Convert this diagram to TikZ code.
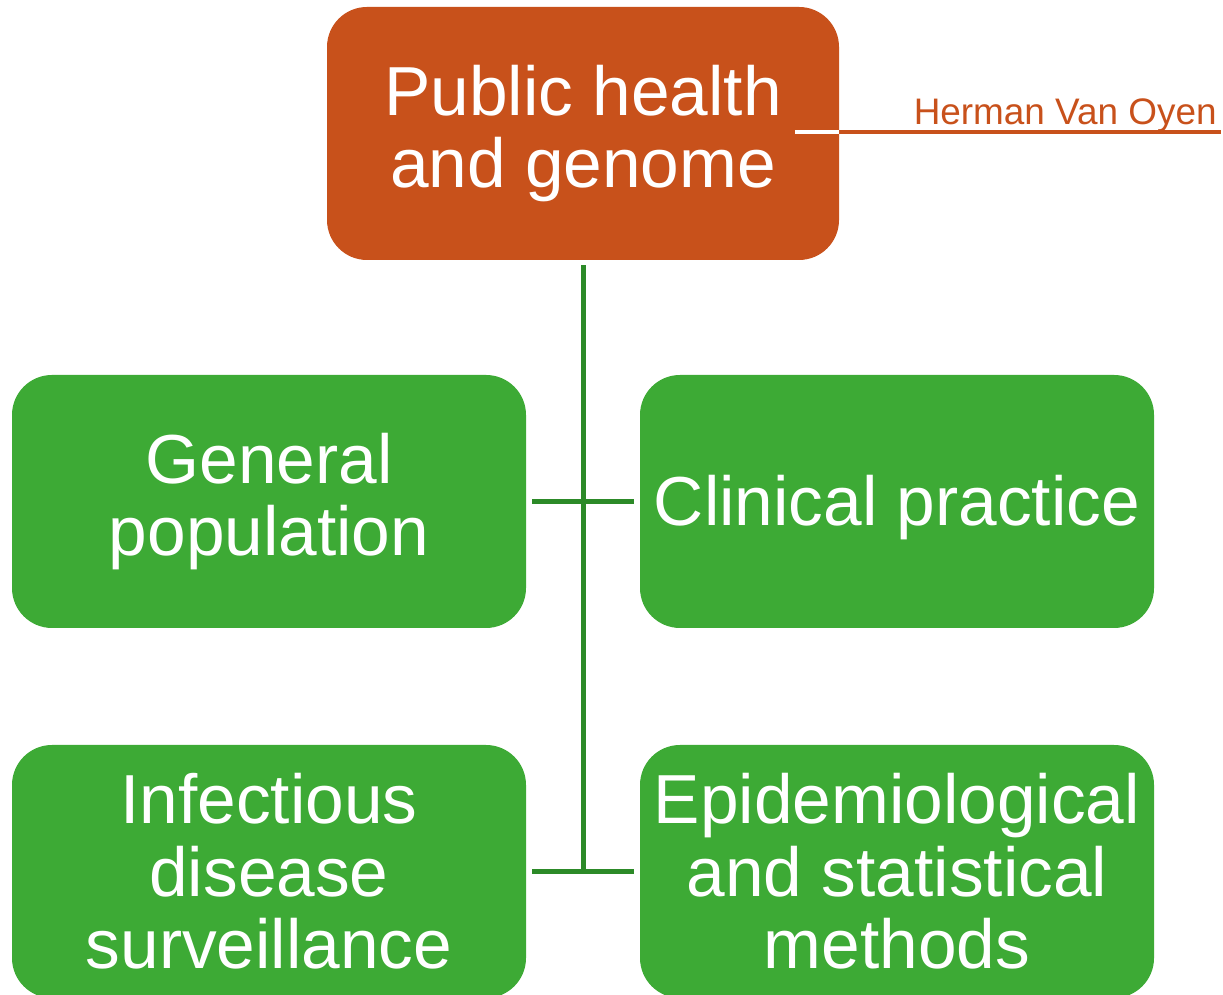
\documentclass[tikz,border=0pt]{standalone}
\usepackage{fontspec}
\setmainfont{Liberation Sans}
\usepackage{tikz}

\definecolor{rootorange}{RGB}{200,81,27}
\definecolor{leafgreen}{RGB}{61,170,53}
\definecolor{linkgreen}{RGB}{44,138,40}

\begin{document}
\begin{tikzpicture}[
	rootbox/.style={draw=none, fill=rootorange, rounded corners=0.8cm, minimum width=10.24cm, minimum height=5.06cm, text=white, align=center, font=\fontsize{39.5}{41.2}\selectfont, execute at begin node={\rule{0pt}{35pt}}},
	leafbox/.style={rootbox, fill=leafgreen, minimum width=10.28cm},
	link/.style={draw=linkgreen, line width=0.1cm}
]
\useasboundingbox (0, 0) rectangle (24.46, 19.9);

%boxes
\node[rootbox] (root) at (11.66, 17.23) {Public health\\and genome};
\node[leafbox] (genpop) at (5.38, 9.87) {General\\population};
\node[leafbox] (clinic) at (17.94, 9.87) {Clinical practice};
\node[leafbox] (infect) at (5.38, 2.47) {Infectious\\disease\\surveillance};
\node[leafbox] (epistat) at (17.94, 2.47) {Epidemiological\\and statistical\\methods};

%author
\node[anchor=base east, inner sep=0pt, text=rootorange, font=\fontsize{21}{24}\selectfont] (author) at (24.34, 17.4) {Herman Van Oyen};
\coordinate (rulestart) at (15.9, 17.26);
\coordinate (ruleend) at (24.42, 17.26);
\draw[white, line width=0.08cm] (rulestart) -- (rulestart -| root.east);
\draw[rootorange, line width=0.08cm] (rulestart -| root.east) -- (ruleend);

%connectors
\coordinate (joint) at (root.south |- infect.east);
\draw[link, shorten <=0.1cm] (root.south) -- (joint);
\draw[link, shorten <=0.12cm, shorten >=0.12cm] (genpop.east) -- (clinic.west);
\draw[link, shorten <=0.12cm, shorten >=0.12cm] (infect.east) -- (epistat.west);

\end{tikzpicture}
\end{document}
